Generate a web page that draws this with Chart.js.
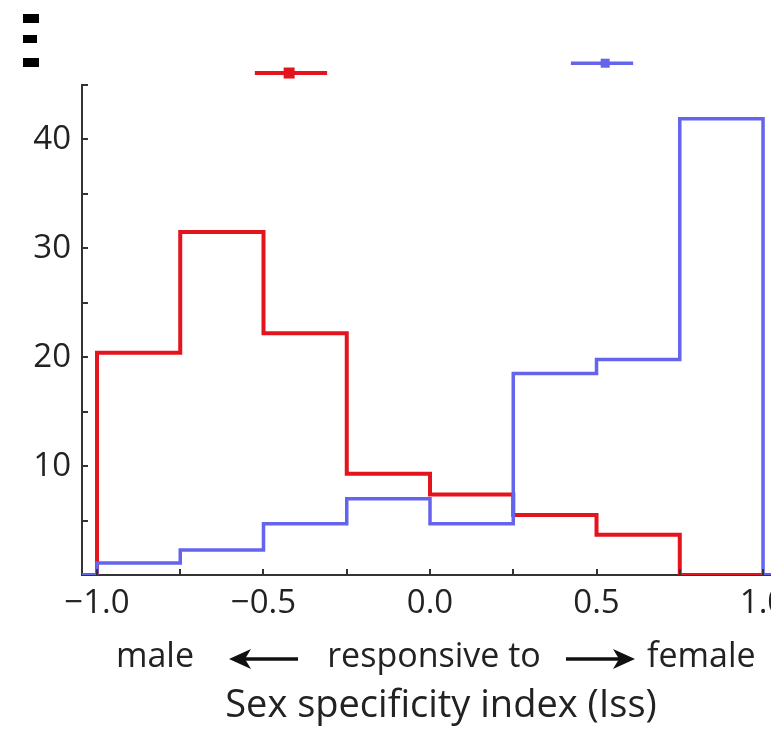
<!DOCTYPE html>
<html>
<head>
<meta charset="utf-8">
<script src="https://cdn.jsdelivr.net/npm/chart.js@4.4.0/dist/chart.umd.min.js"></script>
<style>
  html, body { margin: 0; padding: 0; background: #fff; overflow: hidden; }
  #wrap { width: 771px; height: 732px; overflow: hidden; }
</style>
</head>
<body>
<div id="wrap"><canvas id="issChart" width="800" height="732"></canvas></div>
<script>
// ====== Data ======
const binEdges = [-1.0, -0.75, -0.5, -0.25, 0.0, 0.25, 0.5, 0.75, 1.0];
const redCounts = [20.4, 31.5, 22.2, 9.3, 7.4, 5.5, 3.7, 0];
const blueCounts = [1.1, 2.3, 4.7, 7.0, 4.7, 18.5, 19.8, 41.9];

// mean + interval markers above the plot
const redMean = -0.423, redLow = -0.526, redHigh = -0.309, redLevel = 46.1;
const blueMean = 0.526, blueLow = 0.423, blueHigh = 0.61, blueLevel = 47.0;

const xTickLabels = [-1.0, -0.5, 0.0, 0.5, 1.0];
const yTickLabels = [10, 20, 30, 40];

const RED = "#e3141e";
const BLUE = "#6464ec";
const AXIS = "#333333";
const TEXT = "#222222";
const FONT = "'Open Sans', 'Noto Sans', sans-serif";

// step outline: start on the baseline, one point per bin edge
function stepPoints(counts) {
  const pts = [{ x: -1.045, y: 0 }];
  counts.forEach((c, i) => pts.push({ x: binEdges[i], y: c }));
  pts.push({ x: binEdges[binEdges.length - 1], y: 0 });
  pts.push({ x: 1.11, y: 0 });
  return pts;
}

function fmt(v) {
  return v.toFixed(1).replace("-", "\u2212");
}

function arrow(ctx, x1, x2, y) {
  const dir = x2 > x1 ? 1 : -1;
  ctx.beginPath();
  ctx.moveTo(x1, y);
  ctx.lineTo(x2 - dir * 14, y);
  ctx.lineWidth = 3.5;
  ctx.stroke();
  ctx.beginPath();
  ctx.moveTo(x2, y);
  ctx.lineTo(x2 - dir * 22, y - 10);
  ctx.lineTo(x2 - dir * 16, y);
  ctx.lineTo(x2 - dir * 22, y + 10);
  ctx.closePath();
  ctx.fill();
}

// inward tick marks, mean markers and the direction caption
const extras = {
  id: "extras",
  afterDraw(chart) {
    const { ctx, chartArea, scales } = chart;
    ctx.save();
    ctx.strokeStyle = AXIS;
    ctx.lineWidth = 2;
    for (let v = 5; v <= 45; v += 5) {
      const y = Math.round(scales.y.getPixelForValue(v));
      ctx.beginPath();
      ctx.moveTo(chartArea.left, y);
      ctx.lineTo(chartArea.left + 6, y);
      ctx.stroke();
    }
    binEdges.forEach((e) => {
      const x = Math.round(scales.x.getPixelForValue(e));
      ctx.beginPath();
      ctx.moveTo(x, chartArea.bottom);
      ctx.lineTo(x, chartArea.bottom - 6);
      ctx.stroke();
    });

    // mean squares
    ctx.fillStyle = RED;
    let px = scales.x.getPixelForValue(redMean);
    let py = scales.y.getPixelForValue(redLevel);
    ctx.fillRect(px - 5.5, py - 5.5, 11, 11);
    ctx.fillStyle = BLUE;
    px = scales.x.getPixelForValue(blueMean);
    py = scales.y.getPixelForValue(blueLevel);
    ctx.fillRect(px - 4.5, py - 4.5, 9, 9);

    // cropped marks at the top-left corner of the figure
    ctx.fillStyle = "#000";
    ctx.fillRect(23, 14, 16, 9);
    ctx.fillRect(23, 35, 14, 8);
    ctx.fillRect(23, 58, 16, 9);

    // caption: male <- responsive to -> female
    const cy = 657;
    ctx.fillStyle = TEXT;
    ctx.strokeStyle = "#111";
    ctx.font = "34px " + FONT;
    ctx.textBaseline = "middle";
    ctx.textAlign = "left";
    ctx.fillText("male", 116, cy);
    ctx.textAlign = "center";
    ctx.fillText("responsive to", 434, cy);
    ctx.textAlign = "left";
    ctx.fillText("female", 647, cy);
    ctx.fillStyle = "#111";
    arrow(ctx, 298, 229, cy + 2);
    arrow(ctx, 566, 635, cy + 2);
    ctx.restore();
  }
};

const ctx = document.getElementById("issChart").getContext("2d");

const issChart = new Chart(ctx, {
  type: "line",
  data: {
    datasets: [
      {
        label: "female",
        data: stepPoints(blueCounts),
        borderColor: BLUE,
        borderWidth: 3.5,
        stepped: "before",
        pointRadius: 0,
        fill: false
      },
      {
        label: "male",
        data: stepPoints(redCounts),
        borderColor: RED,
        borderWidth: 4,
        stepped: "before",
        pointRadius: 0,
        fill: false
      },
      {
        label: "male mean",
        data: [{ x: redLow, y: redLevel }, { x: redHigh, y: redLevel }],
        borderColor: RED,
        borderWidth: 4,
        pointRadius: 0,
        clip: false
      },
      {
        label: "female mean",
        data: [{ x: blueLow, y: blueLevel }, { x: blueHigh, y: blueLevel }],
        borderColor: BLUE,
        borderWidth: 3.5,
        pointRadius: 0,
        clip: false
      }
    ]
  },
  options: {
    responsive: false,
    animation: false,
    layout: { padding: { top: 85, right: 0, bottom: 0, left: 0 } },
    plugins: {
      legend: { display: false },
      tooltip: { enabled: false }
    },
    scales: {
      x: {
        type: "linear",
        min: -1.045,
        max: 1.111,
        afterFit: (scale) => { scale.height = 157; },
        afterBuildTicks: (scale) => {
          scale.ticks = xTickLabels.map((v) => ({ value: v }));
        },
        grid: { display: false, drawTicks: false },
        border: { display: true, color: AXIS, width: 2 },
        ticks: {
          padding: 9,
          color: TEXT,
          font: { family: FONT, size: 33 },
          maxRotation: 0,
          autoSkip: false,
          callback: (v) => fmt(v)
        },
        title: {
          display: true,
          text: "Sex specificity index (Iss)",
          color: TEXT,
          font: { family: FONT, size: 38 },
          padding: { top: 0, bottom: 3 }
        }
      },
      y: {
        min: 0,
        max: 45,
        afterFit: (scale) => { scale.width = 82; },
        afterBuildTicks: (scale) => {
          scale.ticks = yTickLabels.map((v) => ({ value: v }));
        },
        grid: { display: false, drawTicks: false },
        border: { display: true, color: AXIS, width: 2 },
        ticks: {
          padding: 11,
          color: TEXT,
          font: { family: FONT, size: 33 },
          callback: (v) => String(v)
        }
      }
    }
  },
  plugins: [extras]
});
</script>
</body>
</html>
